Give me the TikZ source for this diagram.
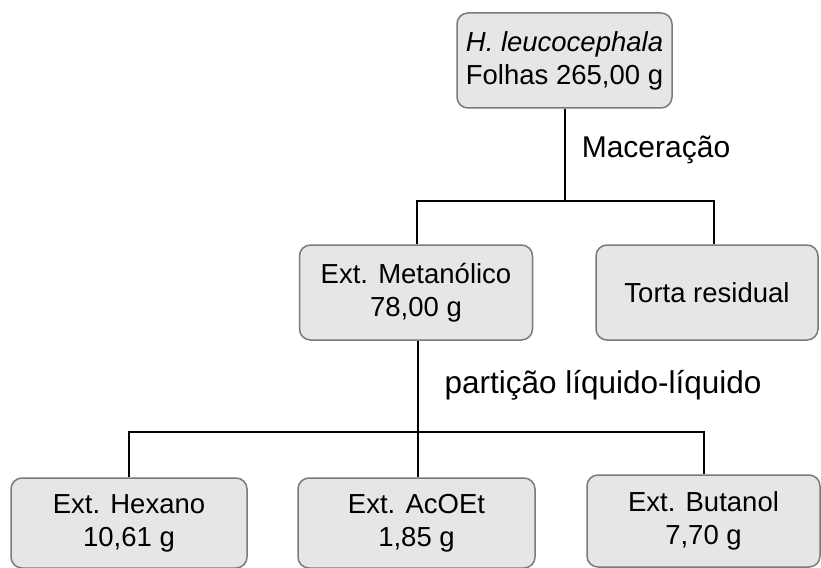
\documentclass[tikz,border=0pt]{standalone}
\usepackage{fontspec}
\setmainfont{Liberation Sans}
\definecolor{boxfill}{HTML}{E6E6E6}
\definecolor{boxline}{HTML}{7A7A7A}
\begin{document}
\begin{tikzpicture}[x=1pt,y=-1pt,
  box/.style={draw=boxline, line width=1.5pt, fill=boxfill, rounded corners=11pt,
    align=center, inner sep=0pt, font=\fontsize{27.5}{33}\selectfont},
  lbl/.style={font=\fontsize{30}{36}\selectfont, inner sep=0pt},
  conn/.style={line width=2pt, black}]
\useasboundingbox (0,0) rectangle (821,567);
\node[box, minimum width=215pt, minimum height=95pt] (top) at (564.5,60.5)
  {\itshape H. leucocephala\\Folhas 265,00 g};
\node[box, minimum width=233pt, minimum height=95pt] (met) at (416,292.5)
  {Ext. Metanólico\\78,00 g};
\node[box, minimum width=222pt, minimum height=95pt] (tor) at (707,292.5)
  {Torta residual};
\node[box, minimum width=236pt, minimum height=90pt] (hex) at (129,523)
  {Ext. Hexano\\10,61 g};
\node[box, minimum width=237pt, minimum height=90pt] (aco) at (416.5,523)
  {Ext. AcOEt\\1,85 g};
\node[box, minimum width=233pt, minimum height=92pt] (but) at (703.5,521)
  {Ext. Butanol\\7,70 g};
\node[lbl] (mac) at (656,150) {Maceração};
\node[lbl, font=\fontsize{31.5}{36}\selectfont] (par) at (603,385) {partição líquido-líquido};
\coordinate (j1) at (564.5,201);
\coordinate (j2) at (418,432);
\draw[conn] (top.south) -- (j1);
\draw[conn] ([xshift=1pt]met.north) |- (j1) -| ([xshift=7pt]tor.north);
\draw[conn] ([xshift=2pt]met.south) -- ([xshift=2pt]met.south |- j2);
\draw[conn] (hex.north) |- (j2) -| (but.north);
\draw[conn] ([xshift=1.5pt]aco.north) -- ([xshift=1.5pt]aco.north |- j2);
\end{tikzpicture}
\end{document}
